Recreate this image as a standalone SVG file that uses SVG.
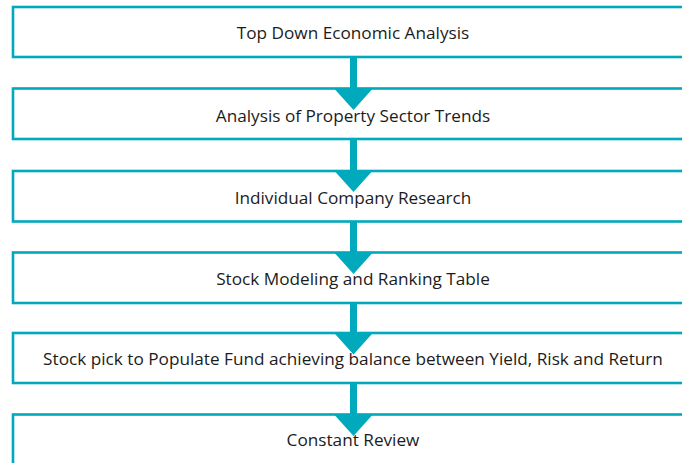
<svg xmlns="http://www.w3.org/2000/svg" width="682" height="463" viewBox="0 0 682 463">
  <style>
    .box { fill: #ffffff; stroke: #00A9BC; stroke-width: 2.6; }
    .lbl { font-family: "Open Sans", "Noto Sans", "Liberation Sans", sans-serif; font-size: 17.2px; fill: #1c1c1c; text-anchor: middle; }
    .shaft { stroke: #00A9BC; stroke-width: 7; fill: none; }
  </style>
  <defs>
    <marker id="head" markerUnits="userSpaceOnUse" markerWidth="22" markerHeight="38" viewBox="0 -18 21 36" refX="0" refY="0" orient="auto">
      <path d="M0,-18 L20,0 L0,18 Z" fill="#00A9BC"/>
    </marker>
  </defs>
  <rect width="682" height="463" fill="#ffffff"/>
  <g id="n1">
    <rect class="box" x="13" y="7" width="700" height="50"/>
    <text class="lbl" x="353" y="39">Top Down Economic Analysis</text>
  </g>
  <g id="n2">
    <rect class="box" x="13" y="88.5" width="700" height="50.5"/>
    <text class="lbl" x="353" y="122">Analysis of Property Sector Trends</text>
  </g>
  <g id="n3">
    <rect class="box" x="13" y="171" width="700" height="50.5"/>
    <text class="lbl" x="353" y="204">Individual Company Research</text>
  </g>
  <g id="n4">
    <rect class="box" x="13" y="252.5" width="700" height="50.5"/>
    <text class="lbl" x="353" y="285">Stock Modeling and Ranking Table</text>
  </g>
  <g id="n5">
    <rect class="box" x="13" y="333" width="700" height="50"/>
    <text class="lbl" x="353" y="365">Stock pick to Populate Fund achieving balance between Yield, Risk and Return</text>
  </g>
  <g id="n6">
    <rect class="box" x="13" y="414.5" width="700" height="60"/>
    <text class="lbl" x="353" y="446">Constant Review</text>
  </g>
  <g id="connectors">
    <line class="shaft" x1="353.5" y1="57" x2="353.5" y2="89" marker-end="url(#head)"/>
    <line class="shaft" x1="353.5" y1="139" x2="353.5" y2="171" marker-end="url(#head)"/>
    <line class="shaft" x1="353.5" y1="221.5" x2="353.5" y2="253" marker-end="url(#head)"/>
    <line class="shaft" x1="353.5" y1="303" x2="353.5" y2="333.5" marker-end="url(#head)"/>
    <line class="shaft" x1="353.5" y1="383" x2="353.5" y2="415" marker-end="url(#head)"/>
  </g>
</svg>
